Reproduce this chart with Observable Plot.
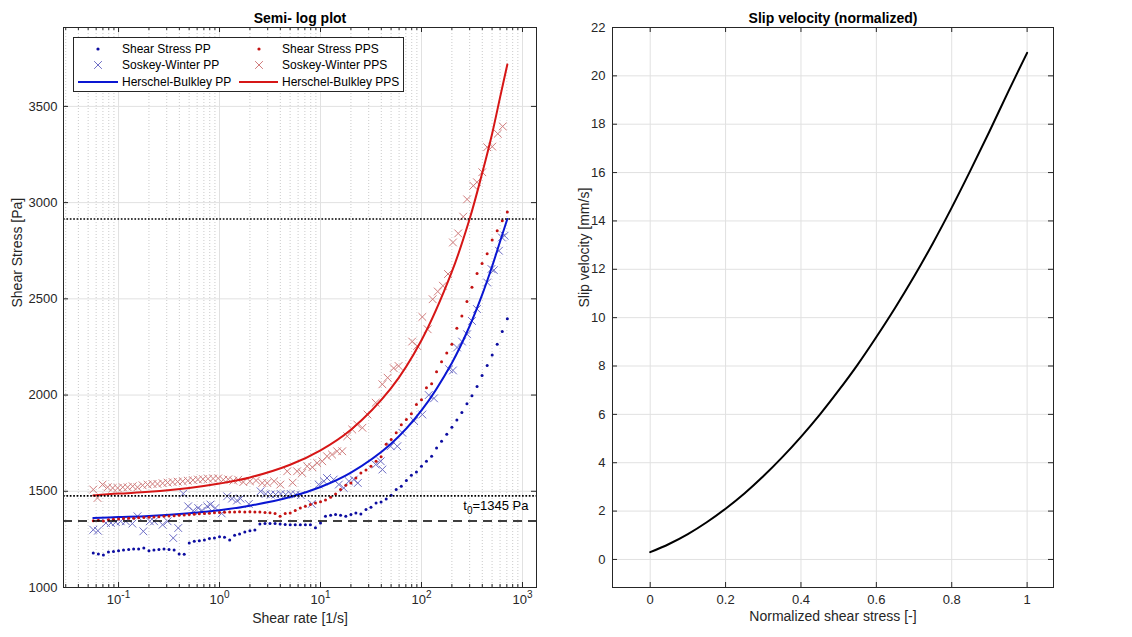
<!DOCTYPE html>
<html><head><meta charset="utf-8">
<script src="https://cdn.jsdelivr.net/npm/d3@7"></script>
<script src="https://cdn.jsdelivr.net/npm/@observablehq/plot@0.6"></script>
<style>
body{margin:0;background:#fff;}
#wrap{position:relative;width:1132px;height:637px;display:flex;background:#fff;}
</style></head><body><div id="wrap"></div>
<script>
// ---------- DATA ----------
const shearRate = [0.0562,0.0631,0.0708,0.0794,0.0891,0.1,0.112,0.126,0.141,0.158,
  0.178,0.2,0.224,0.251,0.282,0.316,0.355,0.398,0.447,0.501,
  0.562,0.631,0.708,0.794,0.891,1,1.12,1.26,1.41,1.58,
  1.78,2,2.24,2.51,2.82,3.16,3.55,3.98,4.47,5.01,
  5.62,6.31,7.08,7.94,8.91,10,11.2,12.6,14.1,15.8,
  17.8,20,22.4,25.1,28.2,31.6,35.5,39.8,44.7,50.1,
  56.2,63.1,70.8,79.4,89.1,100,112,126,141,158,
  178,200,224,251,282,316,355,398,447,501,
  562,631,708];
const stressPP = [1179,1174,1169,1184,1187,1191,1195,1198,1200,1200,
  1205,1191,1195,1198,1200,1198,1195,1174,1173,1231,
  1240,1243,1247,1254,1257,1264,1261,1247,1271,1278,
  1288,1295,1299,1330,1333,1333,1333,1330,1328,1326,
  1326,1326,1326,1326,1310,1335,1370,1375,1379,1375,
  1370,1379,1387,1382,1405,1417,1439,1444,1460,1479,
  1509,1526,1556,1583,1600,1630,1656,1682,1725,1760,
  1797,1833,1870,1910,1955,1997,2045,2101,2153,2208,
  2264,2330,2396];
const stressPPS = [1347,1350,1345,1352,1355,1356,1358,1360,1360,1362,
  1364,1365,1366,1368,1370,1372,1373,1375,1377,1379,
  1381,1383,1385,1386,1388,1390,1391,1392,1392,1393,
  1392,1393,1392,1392,1390,1388,1384,1370,1385,1387,
  1400,1413,1422,1431,1439,1446,1455,1469,1486,1509,
  1531,1543,1569,1595,1611,1630,1656,1680,1745,1769,
  1804,1846,1873,1903,1951,1975,2038,2059,2121,2173,
  2218,2264,2347,2411,2486,2560,2632,2684,2734,2806,
  2854,2906,2951];
const swRatePP = [0.0562,0.0624,0.075,0.084,0.094,0.105,0.118,0.137,0.154,0.176,
  0.204,0.225,0.273,0.306,0.348,0.39,0.437,0.489,0.548,0.615,
  0.67,0.755,0.813,0.91,1.05,1.19,1.33,1.49,1.61,1.95,
  2.55,2.86,3.2,3.59,4.03,4.52,5.07,5.69,6.38,8.2,
  9.6,10.8,11.6,13.5,15.2,17,19.1,21.4,23.4,35.2,
  39.5,41,49.4,57.6,64.6,84.6,102,118,133,188,
  205,225,252,283,316,354,447,493,521,585,
  625,665];
const swStressPP = [1300,1295,1335,1335,1340,1344,1344,1332,1370,1292,
  1344,1344,1326,1344,1257,1309,1488,1422,1399,1413,
  1400,1422,1431,1413,1385,1474,1462,1452,1462,1434,
  1500,1486,1483,1483,1486,1483,1486,1483,1480,1434,
  1535,1552,1569,1561,1535,1517,1552,1561,1543,1639,
  1656,1613,1734,1734,1804,1865,1899,2000,1983,2134,
  2128,2247,2278,2316,2385,2447,2585,2655,2649,2750,
  2819,2828];
const swRatePPS = [0.0562,0.0619,0.0695,0.078,0.0875,0.098,0.11,0.123,0.138,0.154,
  0.173,0.194,0.217,0.243,0.273,0.306,0.343,0.385,0.432,0.485,
  0.545,0.611,0.686,0.77,0.864,0.97,1.09,1.22,1.37,1.53,
  1.72,2,2.3,2.65,2.97,3.47,4,4.68,5.3,5.86,
  6.58,7.38,8.3,9.27,10.4,11.6,13,14.6,16.4,18.4,
  20.6,23.1,26,29.2,35.2,41,46.2,53,59.3,80.8,
  90.6,102,115,129,145,163,183,205,231,259,
  283,326,354,400,447,502,570,637];
const swStressPPS = [1509,1465,1535,1521,1517,1517,1521,1521,1526,1521,
  1531,1535,1538,1538,1542,1545,1548,1550,1552,1555,
  1558,1561,1563,1565,1566,1567,1560,1562,1555,1560,
  1548,1552,1556,1543,1543,1552,1535,1604,1545,1604,
  1595,1630,1625,1647,1656,1682,1691,1708,1708,1786,
  1821,1847,1830,1899,1960,2056,2090,2140,2151,2278,
  2255,2406,2342,2498,2538,2568,2629,2793,2840,2927,
  3017,3088,3106,3158,3288,3291,3358,3396];
const hbRate = [0.0562,0.1,0.2,0.5,1,2,5,10,20,50,100,200,300,400,500,600,708];
const hbPP  = [1361,1366,1372,1386,1402,1425,1470,1522,1597,1747,1920,2167,2359,2523,2668,2798,2915];
const hbPPS = [1478,1488,1497,1517,1540,1572,1638,1713,1820,2036,2285,2641,2916,3155,3357,3547,3718];
const dottedLevels = [2915, 1476];
const t0 = 1345;
const xTicksL = [0.1, 1, 10, 100, 1000];
const yTicksL = [1000, 1500, 2000, 2500, 3000, 3500];
const legendLabels = ["Shear Stress PP","Soskey-Winter PP","Herschel-Bulkley PP",
                      "Shear Stress PPS","Soskey-Winter PPS","Herschel-Bulkley PPS"];

const normStress = [0,0.05,0.1,0.15,0.2,0.25,0.3,0.35,0.4,0.45,0.5,0.55,0.6,0.65,0.7,0.75,0.8,0.85,0.9,0.95,1];
const slipVel    = [0.30,0.64,1.05,1.54,2.10,2.73,3.44,4.22,5.07,5.99,6.99,8.05,9.20,10.41,11.70,13.08,14.55,16.1,17.7,19.35,20.95];
const xTicksR = [0, 0.2, 0.4, 0.6, 0.8, 1];
const yTicksR = [0, 2, 4, 6, 8, 10, 12, 14, 16, 18, 20, 22];

// ---------- STYLE ----------
const FONT = '"Liberation Sans", Arial, Helvetica, sans-serif';
const AX = "#262626", GRID = "#e1e1e1", MINOR = "#bdbdbd";
const C_BLUE_DOT = "#0c0ca0", C_RED_DOT = "#c41212";
const C_BLUE_X = "#6e6ec6", C_RED_X = "#d07c7c";
const C_BLUE_L = "#0a16d2", C_RED_L = "#d61616";
const H = 637, MT = 27, MB = 50, PH = H - MT - MB;

const ssPP  = shearRate.map((x,i)=>({x, y: stressPP[i]}));
const ssPPS = shearRate.map((x,i)=>({x, y: stressPPS[i]}));
const swPP  = swRatePP.map((x,i)=>({x, y: swStressPP[i]}));
const swPPS = swRatePPS.map((x,i)=>({x, y: swStressPPS[i]}));
const hbPPd  = hbRate.map((x,i)=>({x, y: hbPP[i]}));
const hbPPSd = hbRate.map((x,i)=>({x, y: hbPPS[i]}));
const slip = normStress.map((x,i)=>({x, y: slipVel[i]}));

const xDomL = [0.0285, 1377];
const minorX = [];
for (let k = -2; k <= 3; k++) for (let m = 2; m <= 9; m++) {
  const v = m * Math.pow(10, k);
  if (v > xDomL[0] && v < xDomL[1]) minorX.push(v);
}

function frameTicks(xt, yt, pw, len) {
  return [
    Plot.tickX(xt, {x: d=>d, stroke: AX, insetTop: PH - len}),
    Plot.tickX(xt, {x: d=>d, stroke: AX, insetBottom: PH - len}),
    Plot.tickY(yt, {y: d=>d, stroke: AX, insetRight: pw - len}),
    Plot.tickY(yt, {y: d=>d, stroke: AX, insetLeft: pw - len})
  ];
}

// ---------- LEFT PANEL ----------
const WL = 548, MLL = 63, MRL = 12, PWL = WL - MLL - MRL;
const left = Plot.plot({
  width: WL, height: H, marginLeft: MLL, marginRight: MRL, marginTop: MT, marginBottom: MB,
  style: {fontFamily: FONT, fontSize: "13px", color: AX, background: "white", overflow: "visible"},
  x: {type: "log", domain: xDomL, axis: null},
  y: {domain: [1000, 3910], axis: null},
  marks: [
    Plot.ruleX(minorX, {stroke: MINOR, strokeWidth: 0.8, strokeDasharray: "1,2"}),
    Plot.ruleX(xTicksL, {stroke: GRID}),
    Plot.ruleY(yTicksL, {stroke: GRID}),
    Plot.dot(swPP, {x: "x", y: "y", symbol: "times", r: 3.6, stroke: C_BLUE_X, strokeWidth: 1}),
    Plot.dot(ssPP, {x: "x", y: "y", r: 1.5, fill: C_BLUE_DOT}),
    Plot.line(hbPPd, {x: "x", y: "y", stroke: C_BLUE_L, strokeWidth: 2, curve: "catmull-rom"}),
    Plot.dot(swPPS, {x: "x", y: "y", symbol: "times", r: 3.6, stroke: C_RED_X, strokeWidth: 1}),
    Plot.dot(ssPPS, {x: "x", y: "y", r: 1.5, fill: C_RED_DOT}),
    Plot.line(hbPPSd, {x: "x", y: "y", stroke: C_RED_L, strokeWidth: 2, curve: "catmull-rom"}),
    Plot.ruleY(dottedLevels, {stroke: "#000", strokeWidth: 1.7, strokeDasharray: "1.7,1.7"}),
    Plot.ruleY([t0], {stroke: "#000", strokeWidth: 1.5, strokeDasharray: "9,6"}),
    Plot.text([t0], {y: d=>d, frameAnchor: "right", textAnchor: "end", dx: -8, dy: -15,
                     text: d=>`t0=${d} Pa`, fontSize: 13, fill: "#000"}),
    Plot.tickX(minorX, {x: d=>d, stroke: AX, insetTop: PH - 3}),
    Plot.tickX(minorX, {x: d=>d, stroke: AX, insetBottom: PH - 3}),
    ...frameTicks(xTicksL, yTicksL, PWL, 5),
    Plot.frame({stroke: AX}),
    Plot.text(xTicksL, {x: d=>d, frameAnchor: "bottom", dy: 16, text: d=>`10^${Math.round(Math.log10(d))}`, fill: AX}),
    Plot.text(yTicksL, {y: d=>d, frameAnchor: "left", textAnchor: "end", dx: -6, text: d=>String(d), fill: AX}),
    Plot.text(["Semi- log plot"], {frameAnchor: "top", dy: -14, text: d=>d, fontWeight: "bold", fontSize: 14, fill: "#000"}),
    Plot.text(["Shear rate [1/s]"], {frameAnchor: "bottom", dy: 35, text: d=>d, fontSize: 14, fill: AX}),
    Plot.text(["Shear Stress [Pa]"], {frameAnchor: "left", dx: -46, rotate: -90, text: d=>d, fontSize: 14, fill: AX})
  ]
});

// ---------- RIGHT PANEL ----------
const WR = 584, MLR = 64, MRR = 79, PWR = WR - MLR - MRR;
const right = Plot.plot({
  width: WR, height: H, marginLeft: MLR, marginRight: MRR, marginTop: MT, marginBottom: MB,
  style: {fontFamily: FONT, fontSize: "13px", color: AX, background: "white", overflow: "visible"},
  x: {domain: [-0.1, 1.07], axis: null},
  y: {domain: [-1.16, 22], axis: null},
  marks: [
    Plot.ruleX(xTicksR, {stroke: GRID}),
    Plot.ruleY(yTicksR, {stroke: GRID}),
    Plot.line(slip, {x: "x", y: "y", stroke: "#000", strokeWidth: 2, curve: "catmull-rom"}),
    ...frameTicks(xTicksR, yTicksR, PWR, 5),
    Plot.frame({stroke: AX}),
    Plot.text(xTicksR, {x: d=>d, frameAnchor: "bottom", dy: 16, text: d=>String(d), fill: AX}),
    Plot.text(yTicksR, {y: d=>d, frameAnchor: "left", textAnchor: "end", dx: -7, text: d=>String(d), fill: AX}),
    Plot.text(["Slip velocity (normalized)"], {frameAnchor: "top", dy: -14, text: d=>d, fontWeight: "bold", fontSize: 14, fill: "#000"}),
    Plot.text(["Normalized shear stress [-]"], {frameAnchor: "bottom", dy: 33, text: d=>d, fontSize: 14, fill: AX}),
    Plot.text(["Slip velocity [mm/s]"], {frameAnchor: "left", dx: -28, rotate: -90, text: d=>d, fontSize: 14, fill: AX})
  ]
});

// superscripts / subscripts as real text with tspans
function richText(svg) {
  d3.select(svg).selectAll("text").each(function() {
    const s = this.textContent;
    let m = s.match(/^10\^(-?\d+)$/);
    if (m) {
      this.textContent = "";
      const t = d3.select(this);
      t.append("tspan").text("10");
      t.append("tspan").attr("dy", "-6").attr("font-size", "10px").text(m[1]);
      return;
    }
    m = s.match(/^t0(=.*)$/);
    if (m) {
      this.textContent = "";
      const t = d3.select(this);
      t.append("tspan").text("t");
      t.append("tspan").attr("dy", "4").attr("font-size", "10px").text("0");
      t.append("tspan").attr("dy", "-4").text(m[1]);
    }
  });
}
richText(left); richText(right);

const wrap = document.getElementById("wrap");
wrap.appendChild(left);
wrap.appendChild(right);

// ---------- LEGEND (overlay inside left axes) ----------
const lg = d3.create("svg").attr("width", 332).attr("height", 56)
  .style("position", "absolute").style("left", "73px").style("top", "37px")
  .style("font-family", FONT).style("font-size", "12px");
lg.append("rect").attr("x", 0.5).attr("y", 0.5).attr("width", 330).attr("height", 54)
  .attr("fill", "white").attr("stroke", AX);
const cols = [{mx: 25, lx1: 5, lx2: 45, tx: 49, dot: C_BLUE_DOT, cross: C_BLUE_X, line: C_BLUE_L},
              {mx: 186, lx1: 166, lx2: 205, tx: 209, dot: C_RED_DOT, cross: C_RED_X, line: C_RED_L}];
const rows = [12, 28, 45];
cols.forEach((c, ci) => {
  lg.append("circle").attr("cx", c.mx).attr("cy", rows[0]).attr("r", 1.6).attr("fill", c.dot);
  lg.append("path").attr("transform", `translate(${c.mx},${rows[1]})`)
    .attr("d", d3.symbol(d3.symbolTimes, Math.PI * 3.6 * 3.6)()).attr("fill", "none")
    .attr("stroke", c.cross).attr("stroke-width", 1);
  lg.append("line").attr("x1", c.lx1).attr("x2", c.lx2).attr("y1", rows[2]).attr("y2", rows[2])
    .attr("stroke", c.line).attr("stroke-width", 2);
  for (let r = 0; r < 3; r++) {
    lg.append("text").attr("x", c.tx).attr("y", rows[r]).attr("dy", "0.35em")
      .attr("fill", "#000").text(legendLabels[ci * 3 + r]);
  }
});
wrap.appendChild(lg.node());
</script></body></html>
